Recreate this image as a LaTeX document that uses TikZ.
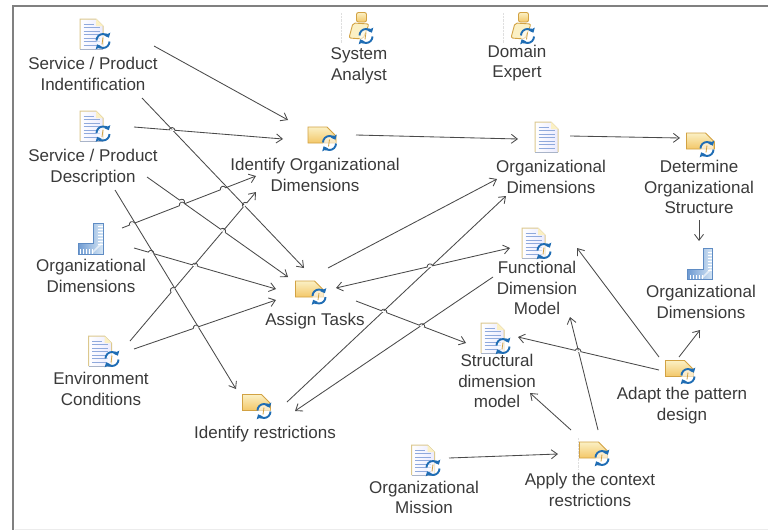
\documentclass[tikz,border=0pt]{standalone}
\usepackage{fontspec}
\setmainfont{Liberation Sans}
\usetikzlibrary{arrows.meta,calc}
\definecolor{ink}{HTML}{3A3A3A}
\definecolor{wirec}{HTML}{4A4A4A}
\definecolor{syncblue}{HTML}{1F6DB4}
\definecolor{tasktop}{HTML}{FBF0C4}
\definecolor{taskbot}{HTML}{F3C768}
\definecolor{taskedge}{HTML}{D2A243}
\definecolor{docedge}{HTML}{DCC88E}
\definecolor{docside}{HTML}{A9B4C8}
\definecolor{docline}{HTML}{8FA9DC}
\definecolor{rulerdark}{HTML}{6F9BD2}
\definecolor{rulerlight}{HTML}{D5E6F5}
\definecolor{rueredge}{HTML}{5F8CC4}
\tikzset{
  x=1pt,y=-1pt,
  lbl/.style={font=\fontsize{17}{20.7}\selectfont,text=ink,align=center,inner sep=0pt},
  iconbox/.style={inner sep=0pt,minimum width=24pt,minimum height=24pt},
  wire/.style={draw=wirec,line width=0.85pt},
  flow/.style={wire,-{Straight Barb[length=6pt,width=9pt,line width=0.85pt]}},
  flowboth/.style={wire,{Straight Barb[length=6pt,width=9pt,line width=0.85pt]}-{Straight Barb[length=6pt,width=9pt,line width=0.85pt]}},
  hop/.pic={
    \fill[white] (-2.6pt,-0.7pt) rectangle (2.6pt,0.7pt);
    \draw[wire] (-3pt,0pt) .. controls (-2pt,3.4pt) and (2pt,3.4pt) .. (3pt,0pt);
  },
  syncmark/.pic={
    \fill[white,opacity=.6] (0,0) circle (6.5);
    \draw[syncblue,line width=1.9pt,-{Triangle[length=4pt,width=6.5pt]}] (-6.5,-0.5) arc[start angle=180,end angle=335,radius=6.5];
    \draw[syncblue,line width=1.9pt,-{Triangle[length=4pt,width=6.5pt]}] (6.5,0.5) arc[start angle=0,end angle=155,radius=6.5];
    \draw[taskedge,line width=.8pt] (0,-3.5) -- (-1,3.5);
  },
  docicon/.pic={
    \path[left color=white,right color=blue!8,draw=none]
      (-11.5,-15) -- (4.5,-15) -- (11.5,-8) -- (11.5,15) -- (-11.5,15) -- cycle;
    \draw[docedge,line width=1pt] (-11.5,15) -- (-11.5,-15) -- (4.5,-15) -- (11.5,-8) -- (11.5,15);
    \draw[docside,line width=.9pt] (-11.5,15) -- (11.5,15);
    \fill[tasktop] (4.5,-15) -- (4.5,-8) -- (11.5,-8) -- cycle;
    \foreach \yy/\xe in {-10/2,-6.5/8,-3/8,0.5/8,4/8,7.5/8,11/8}
      \draw[docline,line width=.8pt] (-8,\yy) -- (\xe,\yy);
  },
  taskicon/.pic={
    \path[top color=tasktop,bottom color=taskbot,draw=taskedge,line width=.9pt]
      (-14,-8) -- (5,-8) -- (14,1) -- (14,8) -- (-14,8) -- cycle;
  },
  rulericon/.pic={
    \path[left color=rulerdark,right color=rulerlight,draw=rueredge,line width=.9pt]
      (-12.5,15.5) -- (12.5,15.5) -- (12.5,-15.5) -- (3,-15.5) -- (3,5) -- (-12.5,5) -- cycle;
    \foreach \yy in {-12,-9,-6,-3,0,3,6}
      \draw[white,line width=.6pt] (7.5,\yy) -- (12,\yy);
    \foreach \xx in {-10,-7,-4,-1,2}
      \draw[white,line width=.6pt] (\xx,15) -- (\xx,10.5);
    \draw[white,line width=1.5pt,opacity=.6] (2,14) -- (11,5);
  },
  roleicon/.pic={
    \path[fill=tasktop,draw=taskedge,line width=.9pt,rounded corners=2pt]
      (-6,-2.5) -- (10,-1.5) -- (4,13.5) -- (-10,12.5) -- cycle;
    \path[top color=tasktop,bottom color=taskbot,draw=taskedge,line width=.9pt,rounded corners=2pt]
      (-2.5,-13) rectangle (7.5,-3.5);
  },
}
\newcommand\link[4][flow]{%
  \coordinate (#2s) at (#3);\coordinate (#2e) at (#4);
  \draw[#1] (#2s) -- (#2e);}
\newcommand\hopon[2]{\path (#1s) -- (#1e) pic[pos=#2,sloped]{hop};}
\newcommand\icon[4]{% name, type, position, sync offset
  \node[iconbox] (#1) at (#3) {};
  \pic at (#1.center) {#2};
  \pic at ($(#1.center)+(#4)$) {syncmark};}
\begin{document}
\begin{tikzpicture}
\useasboundingbox (0,0) rectangle (768,530);
\fill[white] (0,0) rectangle (768,530);
% frame
\coordinate (frameTL) at (13.2,6);
\draw[color=gray,line width=2.2pt] (768,6) -- (frameTL) -- (13.2,530);
\draw[color=gray!15,line width=.8pt] (15,529) -- (768,529);
% faint guides
\foreach \xx/\ya/\yb in {341/13/43,503/13/43,578/438/470}
  \draw[color=gray!25,line width=.4pt,densely dotted] (\xx,\ya) -- (\xx,\yb);

% icons
\icon{iSPI}{docicon}{91.5,34}{11.5,7}
\icon{iSPD}{docicon}{91.5,126}{11.5,7.5}
\node[iconbox] (iODL) at (90.5,238.5) {}; \pic at (iODL.center) {rulericon};
\icon{iENV}{docicon}{100,351}{12,8}
\icon{iIOD}{taskicon}{322,135}{7.5,8}
\icon{iAT}{taskicon}{309.5,289}{9.5,7.5}
\icon{iIR}{taskicon}{256.5,402.5}{7.5,8.5}
\icon{iSA}{roleicon}{359,25.5}{7,10.5}
\icon{iDE}{roleicon}{521,25.5}{6.5,10.5}
\node[iconbox] (iODM) at (546.5,137) {}; \pic at (iODM.center) {docicon};
\icon{iDOS}{taskicon}{700.5,141}{6.5,8}
\node[iconbox] (iODR) at (700,264) {}; \pic at (iODR.center) {rulericon};
\icon{iFDM}{docicon}{533.5,243}{10.5,8}
\icon{iSDM}{docicon}{492.5,338}{10.5,8}
\icon{iAPD}{taskicon}{679.5,368.5}{8.5,7.5}
\icon{iACR}{taskicon}{593.5,450}{8.5,8}
\icon{iOM}{docicon}{423,460}{10,8}

% labels
\node[lbl] (tSPI) at (93,74) {Service / Product\\Indentification};
\node[lbl] (tSPD) at (93,167.5) {Service / Product\\Description};
\node[lbl] (tODL) at (91,276) {Organizational\\Dimensions};
\node[lbl] (tENV) at (101,389) {Environment\\Conditions};
\node[lbl] (tIOD) at (315,175) {Identify Organizational\\Dimensions};
\node[lbl] (tAT) at (315,321) {Assign Tasks};
\node[lbl] (tIR) at (265,434) {Identify restrictions};
\node[lbl] (tSA) at (359,66) {System\\Analyst};
\node[lbl] (tDE) at (517,63) {Domain\\Expert};
\node[lbl] (tODM) at (551,177) {Organizational\\Dimensions};
\node[lbl] (tDOS) at (699,187) {Determine\\Organizational\\Structure};
\node[lbl] (tODR) at (701,302) {Organizational\\Dimensions};
\node[lbl] (tFDM) at (537,288) {Functional\\Dimension\\Model};
\node[lbl] (tSDM) at (497,381) {Structural\\dimension\\model};
\node[lbl] (tAPD) at (682,405.5) {Adapt the pattern\\design};
\node[lbl] (tACR) at (590,490) {Apply the context\\restrictions};
\node[lbl] (tOM) at (424,497.5) {Organizational\\Mission};

% connectors
\link{a}{154,46}{288,120}
\link{b}{142,98}{304,268}
\link{c}{134,127}{283,139}
\link{d}{147,177}{288,277}
\link{e}{115,190}{236,389}
\link{f}{122,228}{256,176}
\link{g}{134,248}{276,289}
\link{h}{130,341}{256,192}
\link{i}{134,349}{276,300}
\link{j}{356,135}{518,139}
\link{k}{570,136}{680,138}
\link{l}{699,220}{699,241}
\link{m}{328,268}{497,179}
\link{n}{287,402}{506,196}
\link{o}{493,277}{295,411}
\link[flowboth]{p}{336,288}{510,248}
\link{q}{356,301}{466,343}
\link{r}{659,357}{577,248}
\link{s}{679,357}{700,330}
\link{t}{659,370}{518,337}
\link{u}{598,430}{570,317}
\link{v}{571,430}{530,393}
\link{w}{449,458}{558,454}

% line jumps
\hopon{c}{.255}
\hopon{d}{.248}
\hopon{d}{.539}
\hopon{f}{.075}
\hopon{f}{.448}
\hopon{f}{.754}
\hopon{g}{.12}
\hopon{g}{.43}
\hopon{h}{.341}
\hopon{h}{.913}
\hopon{i}{.437}
\hopon{p}{.54}
\hopon{q}{.255}
\hopon{q}{.6}
\hopon{t}{.574}
\end{tikzpicture}
\end{document}
